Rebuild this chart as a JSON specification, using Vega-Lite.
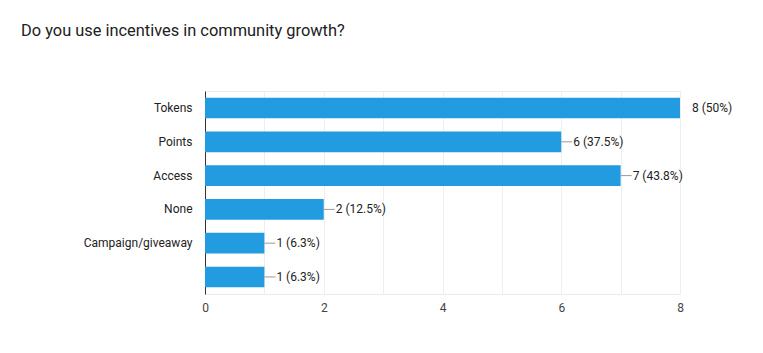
{
  "$schema": "https://vega.github.io/schema/vega-lite/v6.json",
  "width": 475,
  "height": 203,
  "autosize": "none",
  "padding": {"left": 205, "top": 91, "right": 83, "bottom": 59},
  "background": "white",
  "title": {
    "text": "Do you use incentives in community growth?",
    "anchor": "start",
    "frame": "group",
    "dx": -184,
    "dy": -48,
    "font": "Roboto",
    "fontSize": 16.4,
    "fontWeight": "normal",
    "color": "#212121"
  },
  "config": {
    "view": {"stroke": "#ebebeb"},
    "font": "Roboto"
  },
  "data": {
    "values": [
      {"option": "Tokens", "count": 8, "label": "8 (50%)"},
      {"option": "Points", "count": 6, "label": "6 (37.5%)"},
      {"option": "Access", "count": 7, "label": "7 (43.8%)"},
      {"option": "None", "count": 2, "label": "2 (12.5%)"},
      {"option": "Campaign/giveaway", "count": 1, "label": "1 (6.3%)"},
      {"option": " ", "count": 1, "label": "1 (6.3%)"}
    ]
  },
  "encoding": {
    "y": {
      "field": "option",
      "type": "nominal",
      "sort": null,
      "scale": {"paddingInner": 0.39, "paddingOuter": 0.2},
      "axis": {
        "title": null,
        "ticks": false,
        "domainColor": "#333333",
        "labelPadding": 13,
        "labelFontSize": 12,
        "labelColor": "#222222",
        "labelFont": "Roboto"
      }
    }
  },
  "layer": [
    {
      "mark": {"type": "bar", "color": "#229be0"},
      "encoding": {
        "x": {
          "field": "count",
          "type": "quantitative",
          "scale": {"domain": [0, 8], "nice": false},
          "axis": {
            "title": null,
            "values": [0, 1, 2, 3, 4, 5, 6, 7, 8],
            "format": "d",
            "labelExpr": "datum.value % 2 == 0 ? datum.label : ''",
            "labelFlush": false,
            "domain": false,
            "ticks": false,
            "gridColor": "#eeeeee",
            "labelPadding": 8,
            "labelFontSize": 12,
            "labelColor": "#444444",
            "labelFont": "Roboto"
          }
        }
      }
    },
    {
      "transform": [{"filter": "datum.count < 8"}],
      "mark": {"type": "rule", "color": "#999999", "strokeWidth": 1, "x2Offset": 11},
      "encoding": {
        "x": {"field": "count", "type": "quantitative"},
        "x2": {"field": "count"}
      }
    },
    {
      "mark": {"type": "text", "align": "left", "baseline": "middle", "dx": 12, "fontSize": 12, "color": "#222222", "font": "Roboto"},
      "encoding": {
        "x": {"field": "count", "type": "quantitative"},
        "text": {"field": "label"}
      }
    }
  ]
}
